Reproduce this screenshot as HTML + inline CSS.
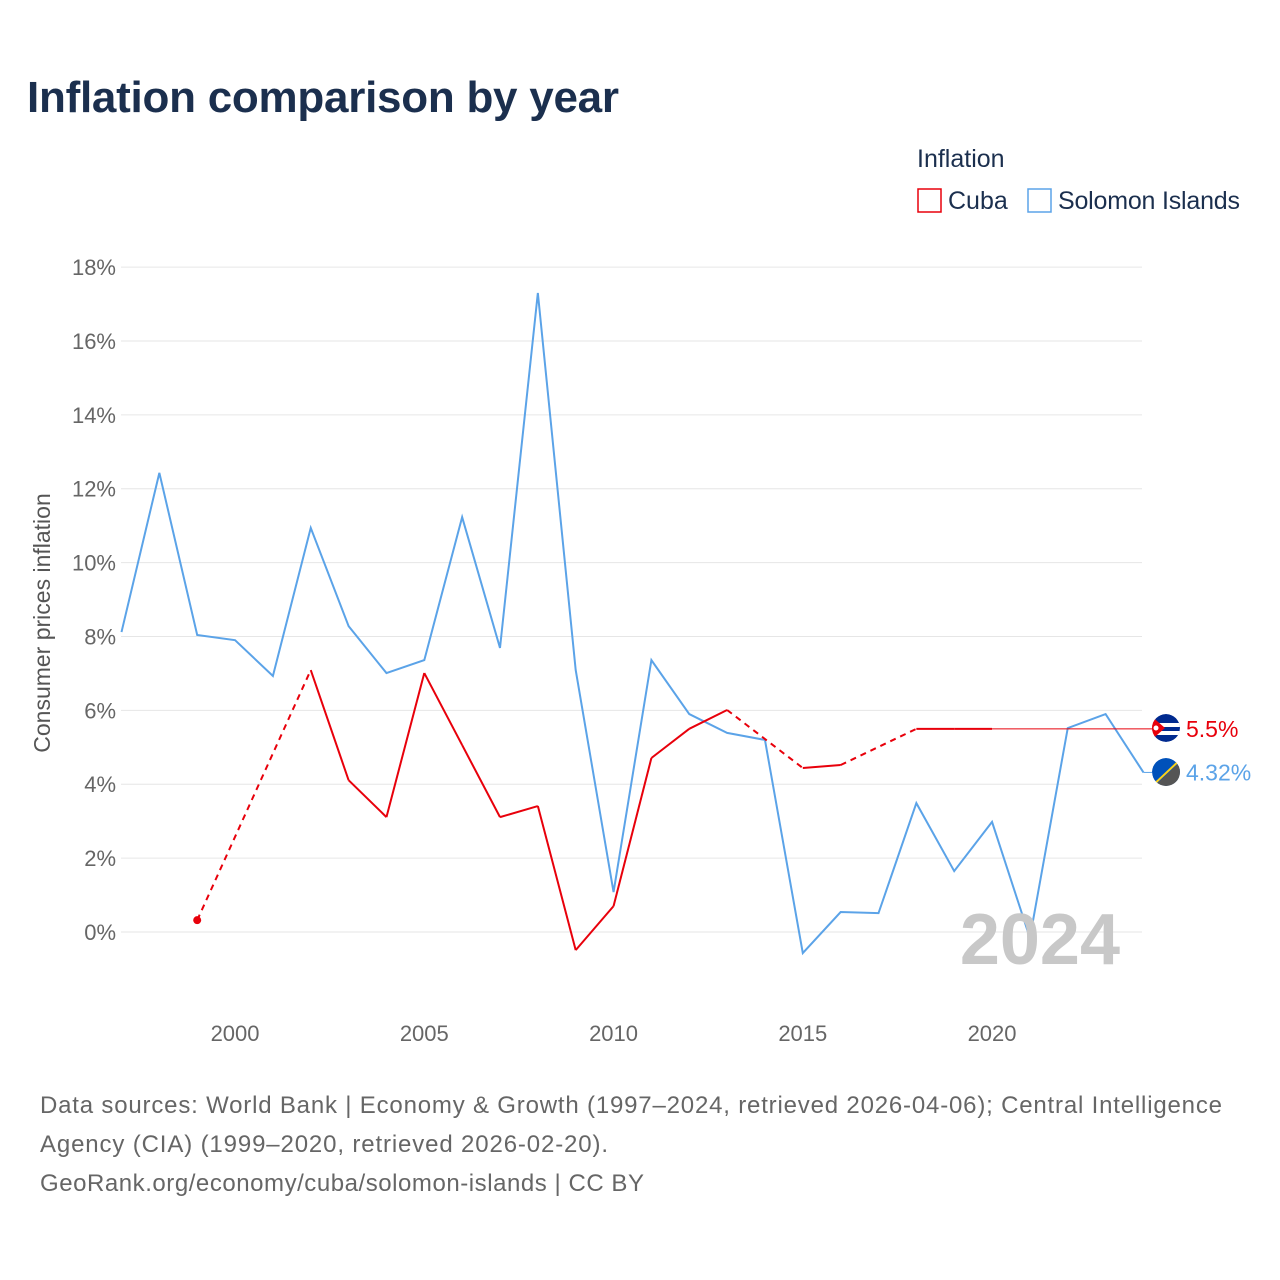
<!DOCTYPE html>
<html><head><meta charset="utf-8"><style>
body{margin:0;background:#fff;font-family:"Liberation Sans",sans-serif;}
#wrap{position:relative;width:1280px;height:1280px;overflow:hidden;}
</style></head><body>
<div id="wrap">
<svg id="chart" width="1280" height="1280" font-family="Liberation Sans, sans-serif">
<defs>
<clipPath id="c1"><circle cx="1166" cy="728" r="14"/></clipPath>
<clipPath id="c2"><circle cx="1166" cy="772" r="14"/></clipPath>
</defs>
<text x="27" y="112" font-size="44" font-weight="bold" fill="#1b2f4e" textLength="592">Inflation comparison by year</text>
<text x="917" y="167" font-size="25" fill="#1b2f4e">Inflation</text>
<g><rect x="918" y="189" width="23" height="23" fill="none" stroke="#e8000b" stroke-width="1.5"/><text x="948" y="209" font-size="25" fill="#1b2f4e">Cuba</text></g>
<g><rect x="1028" y="189" width="23" height="23" fill="none" stroke="#5ba3e8" stroke-width="1.5"/><text x="1058" y="209" font-size="25" fill="#1b2f4e" textLength="182">Solomon Islands</text></g>
<text transform="translate(50,623) rotate(-90)" text-anchor="middle" font-size="23" fill="#555">Consumer prices inflation</text>
<g id="grid"></g><g id="series"></g>
<text x="1120" y="964" text-anchor="end" font-size="72" font-weight="bold" fill="#c8c8c8">2024</text>
<g font-size="24" fill="#666">
<text x="40" y="1113" textLength="1182">Data sources: World Bank | Economy &amp; Growth (1997–2024, retrieved 2026-04-06); Central Intelligence</text>
<text x="40" y="1152" textLength="568">Agency (CIA) (1999–2020, retrieved 2026-02-20).</text>
<text x="40" y="1191" textLength="604">GeoRank.org/economy/cuba/solomon-islands | CC BY</text>
</g>
</svg></div>
<script>
const years=[1997,1998,1999,2000,2001,2002,2003,2004,2005,2006,2007,2008,2009,2010,2011,2012,2013,2014,2015,2016,2017,2018,2019,2020,2021,2022,2023,2024];
const solomon=[8.12,12.43,8.04,7.9,6.93,10.94,8.28,7.01,7.36,11.23,7.69,17.3,7.09,1.08,7.36,5.9,5.39,5.2,-0.57,0.54,0.51,3.49,1.65,2.98,-0.16,5.52,5.9,4.32];
const cuba=[null,null,0.32,null,null,7.09,4.11,3.11,7.01,5.06,3.11,3.41,-0.49,0.7,4.71,5.5,6.01,null,4.44,4.52,null,5.5,5.5,5.5,null,null,null,null];
const yTicks=[0,2,4,6,8,10,12,14,16,18];
const xTicks=[2000,2005,2010,2015,2020];
const X=y=>121.5+(y-1997)*37.85, Y=v=>932-v*36.94;
const NS="http://www.w3.org/2000/svg";
function mk(t,a,p){const e=document.createElementNS(NS,t);for(const k in a)e.setAttribute(k,a[k]);p.appendChild(e);return e;}
const g=document.getElementById('grid'), s=document.getElementById('series');
yTicks.forEach(v=>{
 const l=mk('line',{x1:121,x2:1142,y1:Y(v),y2:Y(v),stroke:'#e6e6e6','stroke-width':1},g);
 
 
 const t=mk('text',{x:116,y:Y(v)+8,'text-anchor':'end','font-size':22,fill:'#666'},g);t.textContent=v+'%';
 
 
});
xTicks.forEach(v=>{
 const t=mk('text',{x:X(v),y:1041,'text-anchor':'middle','font-size':22,fill:'#666'},g);t.textContent=v;
 
 
});
let d=solomon.map((v,i)=>(i?'L':'M')+X(years[i])+','+Y(v)).join('');
const sl=mk('path',{d:d,fill:'none',stroke:'#5ba3e8','stroke-width':2},s);


let prev=-1;
cuba.forEach((v,i)=>{
 if(v===null)return;
 if(prev>=0){
  const dashed=i-prev>1;
  const l=mk('line',{x1:X(years[prev]),y1:Y(cuba[prev]),x2:X(years[i]),y2:Y(v),stroke:'#e8000b','stroke-width':2,'stroke-dasharray':dashed?'6,5':'none'},s);
  
  
 }
 prev=i;
});
const first=cuba.findIndex(v=>v!==null);
const dot=mk('circle',{cx:X(years[first]),cy:Y(cuba[first]),r:4,fill:'#e8000b'},s);


const cl=cuba[prev];
const ext=mk('line',{x1:X(years[prev]),y1:Y(cl),x2:1152,y2:Y(cl),stroke:'#e8000b','stroke-width':1},s);


const sLast=solomon[solomon.length-1];
mk('line',{x1:X(2024),y1:Y(sLast),x2:1152,y2:Y(sLast),stroke:'#5ba3e8','stroke-width':1},s);
const f1=mk('g',{'clip-path':'url(#c1)'},s);


mk('circle',{cx:1166,cy:728,r:14,fill:'#002a8f'},f1);
mk('rect',{x:1152,y:723,width:28,height:4,fill:'#fff'},f1);
mk('rect',{x:1152,y:731,width:28,height:4,fill:'#fff'},f1);
mk('path',{d:'M1149,714L1165,728L1149,742Z',fill:'#e8000b'},f1);
mk('circle',{cx:1156,cy:728,r:2.5,fill:'#fff'},f1);
const f2=mk('g',{'clip-path':'url(#c2)'},s);


mk('circle',{cx:1166,cy:772,r:14,fill:'#0051ba'},f2);
mk('path',{d:'M1182,760L1182,790L1150,790Z',fill:'#555'},f2);
mk('line',{x1:1150,y1:788,x2:1182,y2:758,stroke:'#fcd116','stroke-width':2},f2);
const t1=mk('text',{x:1186,y:Y(cl)+8,'font-size':23,fill:'#e8000b'},s);t1.textContent=cl+'%';


const t2=mk('text',{x:1186,y:Y(sLast)+8,'font-size':23,fill:'#5ba3e8'},s);t2.textContent=sLast+'%';


</script>
</body></html>
